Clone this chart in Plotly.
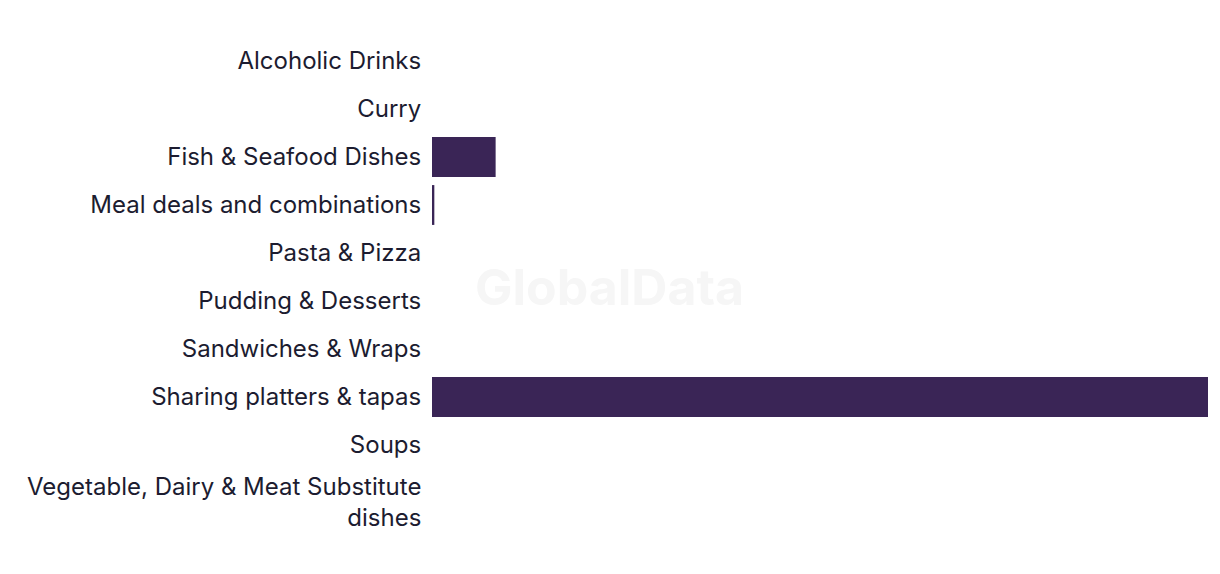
import plotly.graph_objects as go

categories = [
    "Alcoholic Drinks",
    "Curry",
    "Fish & Seafood Dishes",
    "Meal deals and combinations",
    "Pasta & Pizza",
    "Pudding & Desserts",
    "Sandwiches & Wraps",
    "Sharing platters & tapas",
    "Soups",
    "Vegetable, Dairy & Meat Substitute<br>dishes",
]
values = [0, 0, 8.2, 0.3, 0, 0, 0, 100, 0, 0]

# last (two-line) label is drawn as an annotation so it can sit a bit lower, like the reference
ticktext = categories[:-1] + [""]

fig = go.Figure(
    go.Bar(
        x=values,
        y=categories,
        orientation="h",
        marker=dict(color="#3a2556", line=dict(width=0)),
        hoverinfo="x+y",
    )
)

fig.update_layout(
    width=1212,
    height=566,
    margin=dict(l=424, r=12, t=29, b=57),
    paper_bgcolor="white",
    plot_bgcolor="white",
    bargap=0.17,
    showlegend=False,
    font=dict(family="Inter, Lato, sans-serif", size=24, color="#1c1c30"),
    annotations=[
        dict(
            text="<b>GlobalData</b>",
            xref="paper",
            yref="paper",
            x=0.229,
            y=0.479,
            xanchor="center",
            yanchor="middle",
            showarrow=False,
            font=dict(size=50, color="#f6f6f6", family="Inter, sans-serif"),
        ),
        dict(
            text=categories[-1],
            xref="paper",
            yref="y",
            x=0,
            y=categories[-1],
            xanchor="right",
            yanchor="middle",
            xshift=-9,
            yshift=-9,
            align="right",
            showarrow=False,
            font=dict(size=24, color="#1c1c30", family="Inter, Lato, sans-serif"),
        ),
    ],
)
fig.update_xaxes(visible=False, range=[0, 100], fixedrange=True)
fig.update_yaxes(
    autorange="reversed",
    tickmode="array",
    tickvals=categories,
    ticktext=ticktext,
    showgrid=False,
    zeroline=False,
    showline=False,
    ticks="outside",
    ticklen=5,
    tickcolor="rgba(0,0,0,0)",
    fixedrange=True,
)

fig.write_html("out.html")
